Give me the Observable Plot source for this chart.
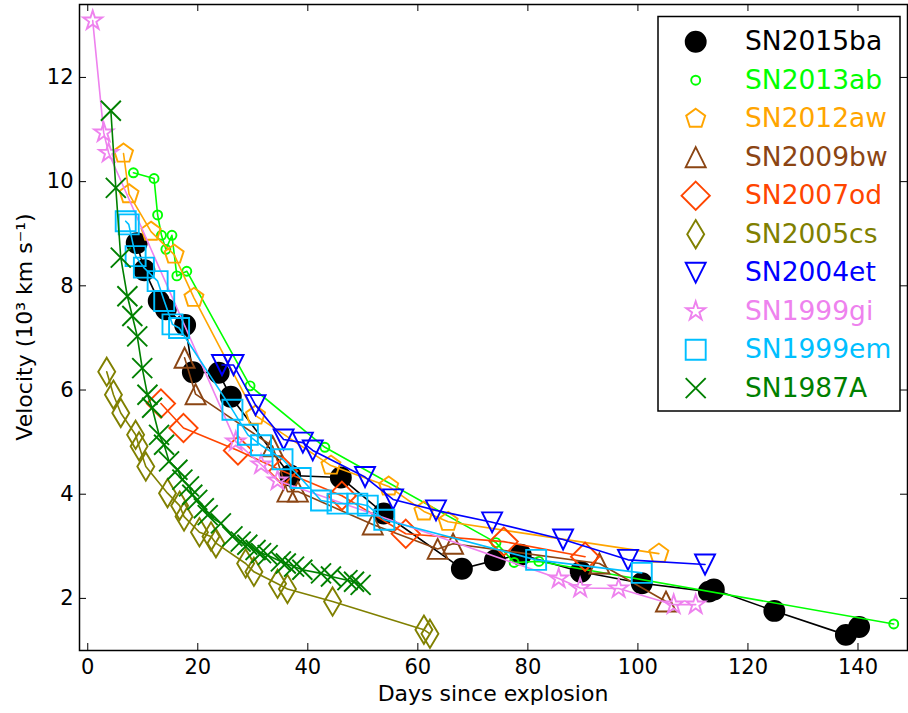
<!DOCTYPE html>
<html><head><meta charset="utf-8">
<script src="https://cdn.jsdelivr.net/npm/d3@7"></script>
<script src="https://cdn.jsdelivr.net/npm/@observablehq/plot@0.6"></script>
<style>
body{margin:0;background:#fff;}
#chart{position:relative;width:908px;height:713px;}
</style></head><body><div id="chart"></div>
<script>
// ---- data (days since explosion, velocity in 10^3 km/s) ----
const sn2015ba_day = [8.9, 10.3, 12.9, 14.2, 17.7, 19.1, 23.8, 26.0, 36.8, 46.0, 53.8, 68.0, 74.0, 78.7, 89.6, 100.7, 112.9, 113.8, 124.8, 137.8, 140.2];
const sn2015ba_vel = [8.82, 8.30, 7.71, 7.55, 7.25, 6.34, 6.33, 5.87, 4.36, 4.32, 3.63, 2.57, 2.73, 2.84, 2.51, 2.29, 2.13, 2.17, 1.76, 1.30, 1.45];

const sn2013ab_day = [8.3, 12.05, 12.7, 13.4, 14.2, 15.3, 16.2, 18.0, 29.5, 43.1, 74.2, 77.5, 82.0, 146.5];
const sn2013ab_vel = [10.17, 10.06, 9.36, 8.97, 8.70, 8.97, 8.19, 8.28, 6.08, 4.90, 3.07, 2.69, 2.71, 1.51];

const sn2012aw_day = [6.5, 7.5, 11.5, 15.7, 19.3, 30.5, 44.2, 54.7, 61.1, 65.5, 103.8];
const sn2012aw_vel = [10.54, 9.76, 9.04, 8.60, 7.77, 5.51, 4.55, 4.15, 3.67, 3.47, 2.86];

const sn2009bw_day = [17.6, 19.6, 33.6, 36.3, 38.2, 51.8, 63.6, 66.4, 93.0, 105.1];
const sn2009bw_vel = [6.62, 5.92, 4.92, 4.05, 4.05, 3.42, 2.95, 3.05, 2.67, 1.94];

const sn2007od_day = [13.3, 17.4, 27.3, 35.5, 46.2, 57.8, 75.6, 90.4];
const sn2007od_vel = [5.74, 5.27, 4.84, 4.44, 3.97, 3.24, 3.09, 2.80];

const sn2005cs_day = [3.45, 4.67, 6.0, 8.7, 9.33, 10.55, 14.5, 16.7, 17.5, 20.3, 22.4, 23.3, 28.7, 30.2, 34.5, 36.3, 44.5, 61.1, 62.2];
const sn2005cs_vel = [6.35, 5.91, 5.56, 5.14, 4.92, 4.53, 4.02, 3.78, 3.57, 3.27, 3.19, 3.06, 2.67, 2.51, 2.28, 2.18, 1.94, 1.40, 1.32];

const sn2004et_day = [24.4, 26.5, 30.5, 35.6, 39.1, 40.9, 50.4, 55.5, 63.3, 73.5, 86.4, 98.2, 112.2];
const sn2004et_vel = [6.48, 6.48, 5.71, 5.05, 4.99, 4.84, 4.33, 3.90, 3.69, 3.46, 3.13, 2.74, 2.65];

const sn1999gi_day = [0.9, 2.9, 3.8, 26.9, 31.5, 34.5, 85.6, 89.5, 96.5, 106.5, 110.5];
const sn1999gi_vel = [13.09, 10.94, 10.55, 5.01, 4.57, 4.26, 2.38, 2.20, 2.19, 1.88, 1.88];

const sn1999em_day = [6.9, 7.45, 8.7, 10.2, 12.7, 13.9, 15.4, 16.6, 26.3, 29.1, 31.5, 35.4, 38.7, 42.4, 45.4, 49.0, 50.9, 53.9, 81.5, 100.7];
const sn1999em_vel = [9.24, 9.18, 8.57, 8.35, 8.09, 7.71, 7.26, 7.19, 5.62, 5.14, 4.94, 4.67, 4.31, 3.88, 3.82, 3.82, 3.78, 3.51, 2.74, 2.49];

const sn1987a_day = [4.2, 5.1, 6.0, 7.2, 8.1, 9.0, 9.9, 10.85, 11.7, 12.96, 13.87, 14.78, 16.3, 17.2, 18.4, 19.0, 19.9, 21.1, 21.8, 24.2, 26.3, 27.8, 29.0, 30.5, 31.5, 32.7, 35.1, 36.0, 37.5, 39.0, 42.4, 44.2, 47.2, 48.4, 49.6];
const sn1987a_vel = [11.36, 9.88, 8.54, 7.80, 7.42, 7.03, 6.42, 5.91, 5.66, 5.14, 4.95, 4.63, 4.47, 4.28, 4.15, 3.99, 3.89, 3.73, 3.60, 3.44, 3.19, 3.09, 3.03, 2.93, 2.87, 2.83, 2.71, 2.67, 2.61, 2.55, 2.48, 2.42, 2.35, 2.32, 2.26];

const names = ["SN2015ba", "SN2013ab", "SN2012aw", "SN2009bw", "SN2007od", "SN2005cs", "SN2004et", "SN1999gi", "SN1999em", "SN1987A"];
const colors = ["#000000", "#00ff00", "#ffa500", "#8b4513", "#ff4500", "#808000", "#0000ff", "#ee82ee", "#00bfff", "#008000"];
const xTicks = [0, 20, 40, 60, 80, 100, 120, 140];
const yTicks = [2, 4, 6, 8, 10, 12];

// ---- marker shapes (matplotlib-like) ----
const sym = fn => ({draw(c, size) { fn(c, Math.sqrt(size / Math.PI)); }});
const circleSym = sym((c, r) => { c.moveTo(r, 0); c.arc(0, 0, r, 0, 2 * Math.PI); });
const pentagon = sym((c, r) => { for (let i = 0; i < 5; i++) { const a = -Math.PI / 2 + i * 2 * Math.PI / 5; const x = r * Math.cos(a), y = r * Math.sin(a); i ? c.lineTo(x, y) : c.moveTo(x, y); } c.closePath(); });
const triUp = sym((c, r) => { c.moveTo(0, -r); c.lineTo(r, r); c.lineTo(-r, r); c.closePath(); });
const triDown = sym((c, r) => { c.moveTo(0, r); c.lineTo(r, -r); c.lineTo(-r, -r); c.closePath(); });
const diamond = sym((c, r) => { const d = r * Math.SQRT2; c.moveTo(0, -d); c.lineTo(d, 0); c.lineTo(0, d); c.lineTo(-d, 0); c.closePath(); });
const thinDiamond = sym((c, r) => { const d = r * Math.SQRT2, w = 0.6 * d; c.moveTo(0, -d); c.lineTo(w, 0); c.lineTo(0, d); c.lineTo(-w, 0); c.closePath(); });
const star = sym((c, r) => { const ri = r * 0.381966; for (let i = 0; i < 10; i++) { const a = -Math.PI / 2 + i * Math.PI / 5; const rr = i % 2 ? ri : r; const x = rr * Math.cos(a), y = rr * Math.sin(a); i ? c.lineTo(x, y) : c.moveTo(x, y); } c.closePath(); });
const square = sym((c, r) => { c.moveTo(-r, -r); c.lineTo(r, -r); c.lineTo(r, r); c.lineTo(-r, r); c.closePath(); });
const cross = sym((c, r) => { c.moveTo(-r, -r); c.lineTo(r, r); c.moveTo(r, -r); c.lineTo(-r, r); });

const symbols = [circleSym, circleSym, pentagon, triUp, diamond, thinDiamond, triDown, star, square, cross];
const radii = [10, 4.5, 10, 10, 10, 10, 10, 10, 10, 10];
const filled = [true, false, false, false, false, false, false, false, false, false];

const dayArrays = [sn2015ba_day, sn2013ab_day, sn2012aw_day, sn2009bw_day, sn2007od_day, sn2005cs_day, sn2004et_day, sn1999gi_day, sn1999em_day, sn1987a_day];
const velArrays = [sn2015ba_vel, sn2013ab_vel, sn2012aw_vel, sn2009bw_vel, sn2007od_vel, sn2005cs_vel, sn2004et_vel, sn1999gi_vel, sn1999em_vel, sn1987a_vel];

const series = names.map((name, i) => dayArrays[i].map((d, j) => ({name, day: d, vel: velArrays[i][j]})));

const W = 908, H = 713, mL = 79, mR = 1, mT = 4, mB = 63;
const pw = W - mL - mR, ph = H - mT - mB;
const tick = 7;
const msw = 1.9;

const marks = [];
series.forEach((rows, i) => {
  marks.push(Plot.line(rows, {x: "day", y: "vel", stroke: colors[i], strokeWidth: 1.6}));
  marks.push(Plot.dot(rows, {x: "day", y: "vel", r: radii[i], symbol: i === 0 ? "circle" : symbols[i],
    stroke: colors[i], fill: filled[i] ? colors[i] : "none", strokeWidth: msw}));
});
marks.push(
  Plot.frame({stroke: "black", strokeWidth: 1.5}),
  Plot.tickX(xTicks, {x: d => d, insetTop: ph - tick, stroke: "black", strokeWidth: 1}),
  Plot.tickX(xTicks, {x: d => d, insetBottom: ph - tick, stroke: "black", strokeWidth: 1}),
  Plot.tickY(yTicks, {y: d => d, insetRight: pw - tick, stroke: "black", strokeWidth: 1}),
  Plot.tickY(yTicks, {y: d => d, insetLeft: pw - tick, stroke: "black", strokeWidth: 1}),
  Plot.axisX({ticks: xTicks, tickSize: 0, tickPadding: 9, label: null, tickFormat: d => String(d), fill: "black"}),
  Plot.axisY({ticks: yTicks, tickSize: 0, tickPadding: 6, label: null, tickFormat: d => String(d), fill: "black"})
);

const chart = Plot.plot({
  width: W, height: H,
  marginLeft: mL, marginRight: mR, marginTop: mT, marginBottom: mB,
  x: {domain: [-1.5, 149]},
  y: {domain: [1, 13.4]},
  style: {fontFamily: "DejaVu Sans", fontSize: "21px", color: "black", background: "white", overflow: "visible"},
  marks
});
document.getElementById("chart").appendChild(chart);

const svg = d3.select(chart);
svg.append("text").attr("x", mL + pw / 2).attr("y", 701).attr("text-anchor", "middle")
  .attr("font-family", "DejaVu Sans").attr("font-size", 22).attr("fill", "black").text("Days since explosion");
svg.append("text").attr("transform", `translate(32,${mT + ph / 2}) rotate(-90)`).attr("text-anchor", "middle")
  .attr("font-family", "DejaVu Sans").attr("font-size", 22).attr("fill", "black").text("Velocity (10³ km s⁻¹)");

// legend
const lg = svg.append("g");
lg.append("rect").attr("x", 658).attr("y", 16.5).attr("width", 242).attr("height", 394.5)
  .attr("fill", "white").attr("stroke", "black").attr("stroke-width", 1.5);
names.forEach((n, i) => {
  const cy = 41.7 + i * 38.5;
  lg.append("path").attr("transform", `translate(695.7,${cy})`)
    .attr("d", d3.symbol(symbols[i], radii[i] * radii[i] * Math.PI)())
    .attr("fill", filled[i] ? colors[i] : "none").attr("stroke", colors[i]).attr("stroke-width", msw);
  lg.append("text").attr("x", 745).attr("y", cy + 8.5).attr("text-anchor", "start").attr("font-family", "DejaVu Sans")
    .attr("font-size", 26.5).attr("fill", colors[i]).text(n);
});
</script></body></html>
